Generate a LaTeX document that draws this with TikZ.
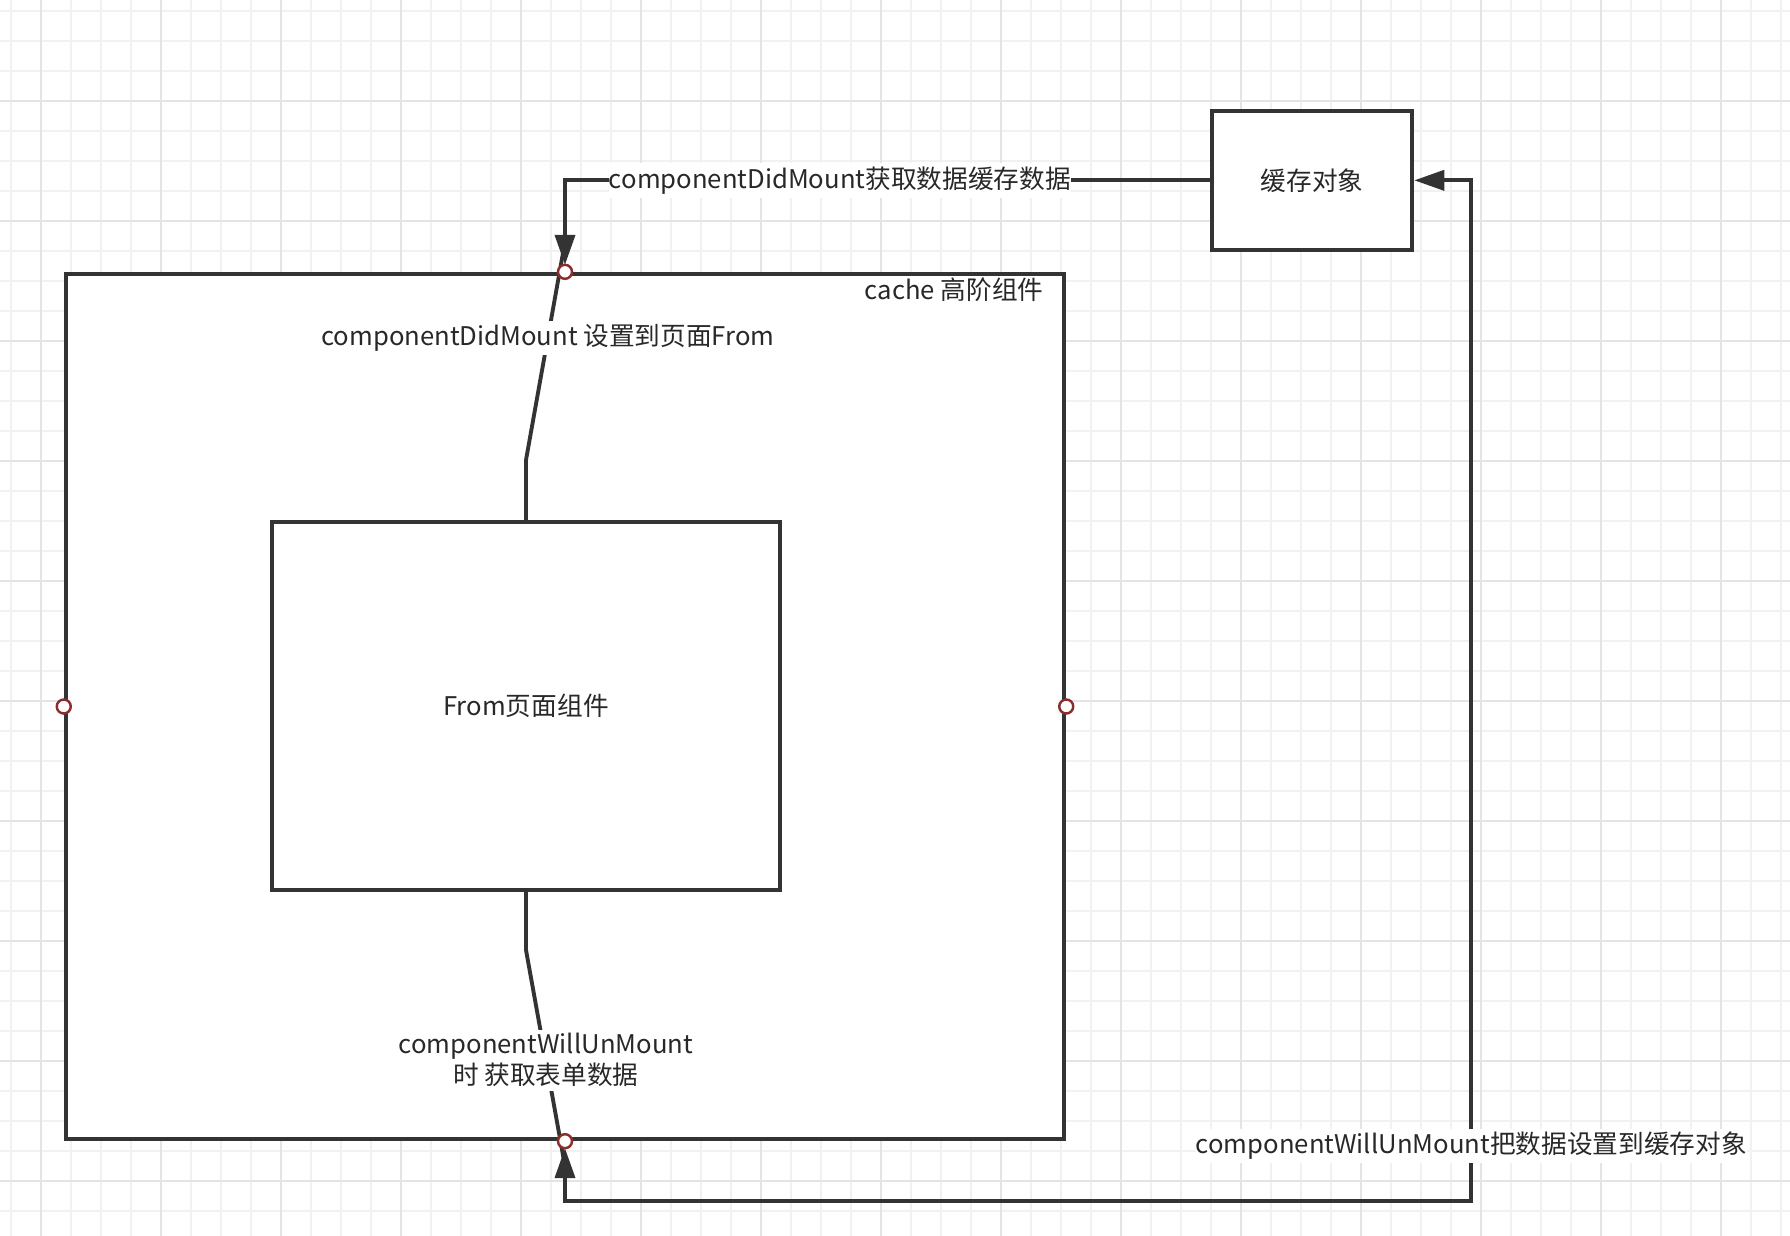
\documentclass[tikz,border=0pt]{standalone}
\usepackage{fontspec}
\setmainfont{Noto Sans CJK SC}
\usepackage{tikz}
\usetikzlibrary{arrows.meta,positioning,calc}
\tikzset{
  box/.style    ={draw=linegray, line width=1.1pt, fill=white, text=textgray,
                  font=\fontsize{7.3pt}{8.8pt}\selectfont, align=center, inner sep=0pt},
  outerbox/.style={box, minimum width=9.98cm, minimum height=8.65cm},
  innerbox/.style={box, minimum width=5.08cm, minimum height=3.68cm},
  cachebox/.style={box, minimum width=2.0cm, minimum height=1.39cm},
  lbl/.style    ={fill=white, text=textgray, align=center, inner xsep=0pt, inner ysep=1pt,
                  font=\fontsize{7.3pt}{8.8pt}\selectfont},
  plain/.style  ={draw=linegray, line width=1.1pt},
  arr/.style    ={plain, -{Triangle[length=0.3cm, width=0.2cm]}},
  biarr/.style  ={plain, {Triangle[length=0.3cm, width=0.2cm]}-{Triangle[length=0.3cm, width=0.2cm]}},
  pin/.style    ={circle, draw=pinred, line width=0.7pt, fill=white,
                  minimum size=0.14cm, inner sep=0pt},
  gridminor/.style={draw=gridlight, line width=0.45pt},
  gridmajor/.style={draw=griddark, line width=0.5pt},
}
\definecolor{linegray}{RGB}{51,51,51}
\definecolor{textgray}{RGB}{40,40,40}
\definecolor{pinred}  {RGB}{140,45,45}
\definecolor{gridlight}{RGB}{241,241,241}
\definecolor{griddark} {RGB}{228,228,228}

\begin{document}
\begin{tikzpicture}[x=0.01cm, y=-0.01cm]
  \useasboundingbox (0,0) rectangle (1790,1236);
  \fill[white] (0,0) rectangle (1790,1236);
  \foreach \gx in {11,41,...,1790} \draw[gridminor] (\gx,0) -- (\gx,1236);
  \foreach \gy in {11,41,...,1236} \draw[gridminor] (0,\gy) -- (1790,\gy);
  \foreach \gx in {41,161,...,1790} \draw[gridmajor] (\gx,0) -- (\gx,1236);
  \foreach \gy in {101,221,...,1236} \draw[gridmajor] (0,\gy) -- (1790,\gy);

  \node[outerbox] (outer) at (565,706.5) {};
  \node[innerbox] (inner) at (526,706) {From页面组件};
  \node[cachebox, above right=0.2cm and 1.44cm of outer.north east] (cache) {缓存对象};
  \node[lbl, fill=none, anchor=east] (cachetag) at ($(outer.north east)+(-22,18)$) {cache 高阶组件};

  \coordinate (topin) at ($(outer.north)+(0,-7)$);
  \coordinate (botin) at ($(outer.south)+(0,7)$);
  \coordinate (turn) at ($(cache.east |- outer.south)+(57,60)$);

  \draw[plain] (inner.north) -- ++(0,-60)
    -- node[lbl, pos=0.56] (setlbl) {componentDidMount 设置到页面From} ($(outer.north)+(0,-30)$);
  \draw[plain] (inner.south) -- ++(0,58)
    -- node[lbl, pos=0.51] (getlbl) {componentWillUnMount\\时 获取表单数据} ($(outer.south)+(0,25)$);
  \draw[arr] (cache.west) -| node[lbl, pos=0.287] (loadlbl) {componentDidMount获取数据缓存数据} (topin);
  \draw[biarr] (botin) |- (turn)
    |- node[lbl, pos=0.027] (savelbl) {componentWillUnMount把数据设置到缓存对象} (cache.east);

  \node[pin] (pintop) at (outer.north) {};
  \node[pin] (pinbot) at (outer.south) {};
  \node[pin] (pinleft) at (outer.west) {};
  \node[pin] (pinright) at (outer.east) {};
\end{tikzpicture}
\end{document}
